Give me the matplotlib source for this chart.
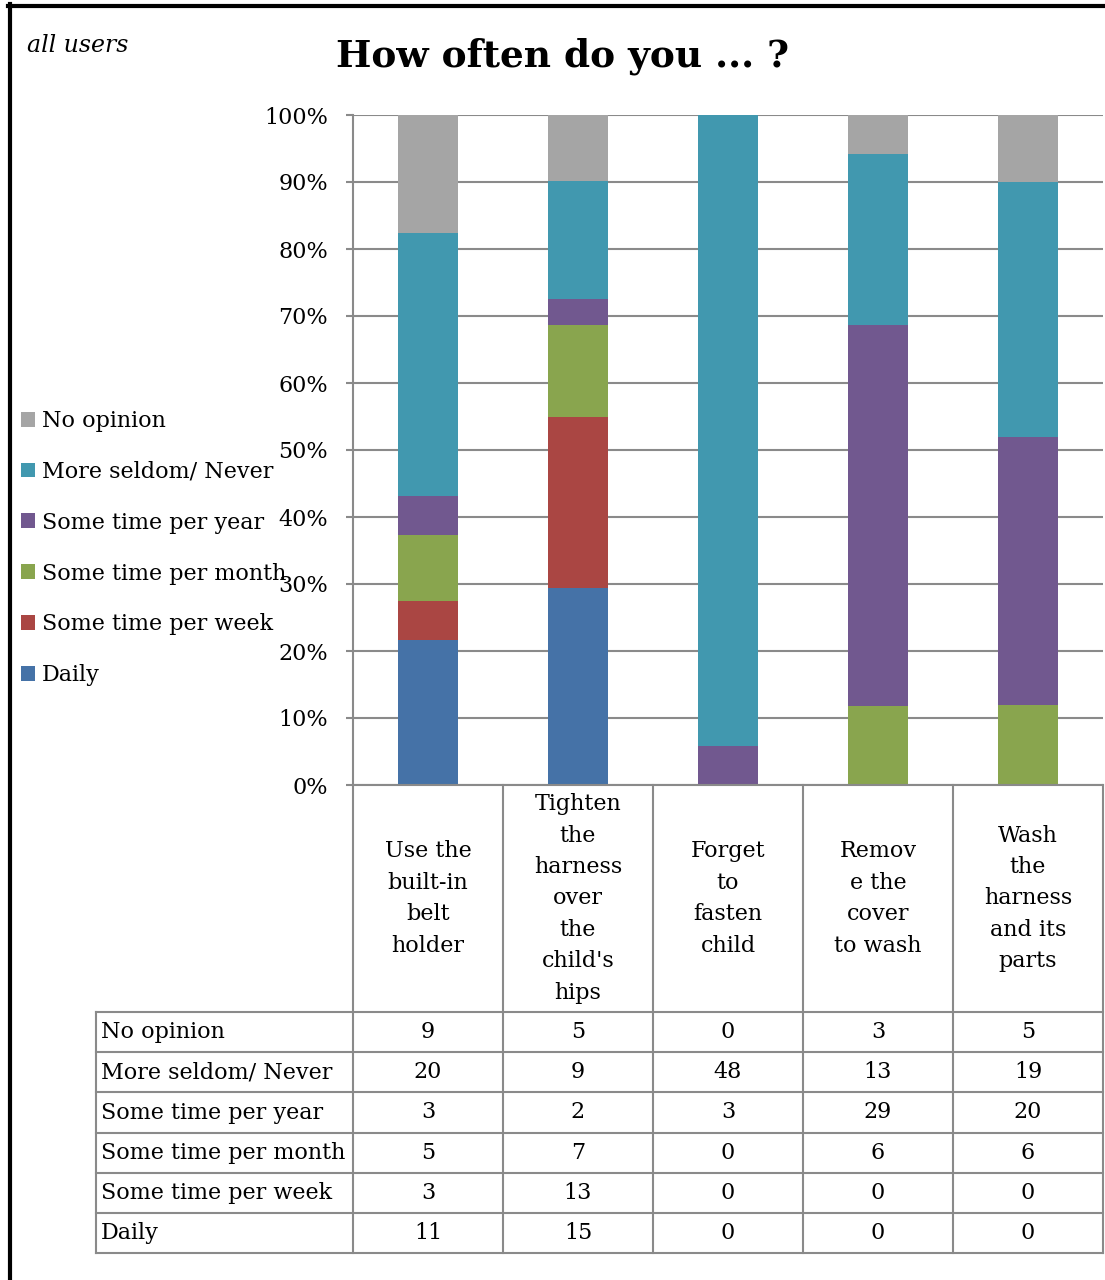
import matplotlib
matplotlib.use("Agg")
import matplotlib.pyplot as plt
from matplotlib.lines import Line2D
import numpy as np

plt.rcParams["font.family"] = ["DejaVu Serif"]

categories = [
    "Use the\nbuilt-in\nbelt\nholder",
    "Tighten\nthe\nharness\nover\nthe\nchild's\nhips",
    "Forget\nto\nfasten\nchild",
    "Remov\ne the\ncover\nto wash",
    "Wash\nthe\nharness\nand its\nparts",
]
# stacking order bottom -> top
series = ["Daily", "Some time per week", "Some time per month",
          "Some time per year", "More seldom/ Never", "No opinion"]
daily = [11, 15, 0, 0, 0]
per_week = [3, 13, 0, 0, 0]
per_month = [5, 7, 0, 6, 6]
per_year = [3, 2, 3, 29, 20]
seldom_never = [20, 9, 48, 13, 19]
no_opinion = [9, 5, 0, 3, 5]
colors = ["#4572A7", "#AA4643", "#89A54E", "#71588F", "#4198AF", "#A5A5A5"]

counts = np.array([daily, per_week, per_month, per_year, seldom_never, no_opinion], dtype=float)
shares = counts / counts.sum(axis=0)

W, H = 1105, 1280
fig = plt.figure(figsize=(W / 100, H / 100), dpi=100)

# layout in pixels
x0, x1 = 353, 1103
y_top, y_bot = 115, 785
head_bot = 1012
row_h = 40.2
lab_left = 96
col_w = (x1 - x0) / len(categories)
grid_col = "#8a8a8a"
fs = 16

ax = fig.add_axes([x0 / W, 1 - y_bot / H, (x1 - x0) / W, (y_bot - y_top) / H])
xpos = np.arange(len(categories)) + 0.5
bottom = np.zeros(len(categories))
for name, vals, c in zip(series, shares, colors):
    ax.bar(xpos, vals, width=0.4, bottom=bottom, color=c, label=name, zorder=3)
    bottom += vals
ax.set_xlim(0, len(categories))
ax.set_ylim(0, 1)
ax.set_yticks(np.linspace(0, 1, 11))
ax.set_yticklabels(["{:d}%".format(v) for v in range(0, 101, 10)], fontsize=fs)
ax.set_xticks([])
ax.yaxis.grid(True, color=grid_col, linewidth=1.5, zorder=0)
ax.tick_params(axis="y", length=5, width=1.5, color=grid_col, pad=13)
for s in ["top", "right", "bottom"]:
    ax.spines[s].set_visible(False)
ax.spines["left"].set_color(grid_col)
ax.spines["left"].set_linewidth(1.5)

# legend, top entry first
handles, labels = ax.get_legend_handles_labels()
fig.legend(handles[::-1], labels[::-1], loc="upper left",
           bbox_to_anchor=(12 / W, 1 - 401 / H), frameon=False,
           fontsize=fs, handlelength=0.65, handleheight=0.65,
           handletextpad=0.3, labelspacing=1.3, borderaxespad=0)

# overlay in pixel coordinates for the data table and frame
ov = fig.add_axes([0, 0, 1, 1], zorder=5)
ov.set_xlim(0, W)
ov.set_ylim(H, 0)
ov.axis("off")
ov.patch.set_alpha(0)

lw = 1.5
# header block
ov.add_line(Line2D([x0, x1], [y_bot, y_bot], color=grid_col, lw=lw))
for i in range(len(categories) + 1):
    xc = x0 + i * col_w
    ov.add_line(Line2D([xc, xc], [y_bot, head_bot + 6 * row_h], color=grid_col, lw=lw))
for i, cat in enumerate(categories):
    ov.text(x0 + (i + 0.5) * col_w, (y_bot + head_bot) / 2, cat, ha="center",
            va="center", fontsize=fs, linespacing=1.55)

# data rows
rows = series[::-1]
row_vals = counts[::-1]
for r in range(len(rows) + 1):
    yy = head_bot + r * row_h
    ov.add_line(Line2D([lab_left, x1], [yy, yy], color=grid_col, lw=lw))
ov.add_line(Line2D([lab_left, lab_left], [head_bot, head_bot + 6 * row_h], color=grid_col, lw=lw))
for r, (name, vals) in enumerate(zip(rows, row_vals)):
    yc = head_bot + (r + 0.5) * row_h
    ov.text(lab_left + 5, yc, name, ha="left", va="center", fontsize=fs)
    for i, v in enumerate(vals):
        ov.text(x0 + (i + 0.5) * col_w, yc, "{:d}".format(int(v)), ha="center",
                va="center", fontsize=fs)

# titles
ov.text(562, 56, "How often do you ... ?", ha="center", va="center",
        fontsize=27, fontweight="bold")
ov.text(27, 46, "all users", ha="left", va="center", fontsize=17, style="italic")

# outer frame (left and top edges)
ov.add_line(Line2D([10, 10], [4, H], color="black", lw=3))
ov.add_line(Line2D([8, W], [6, 6], color="black", lw=3))

fig.savefig("out.png", dpi=100)
